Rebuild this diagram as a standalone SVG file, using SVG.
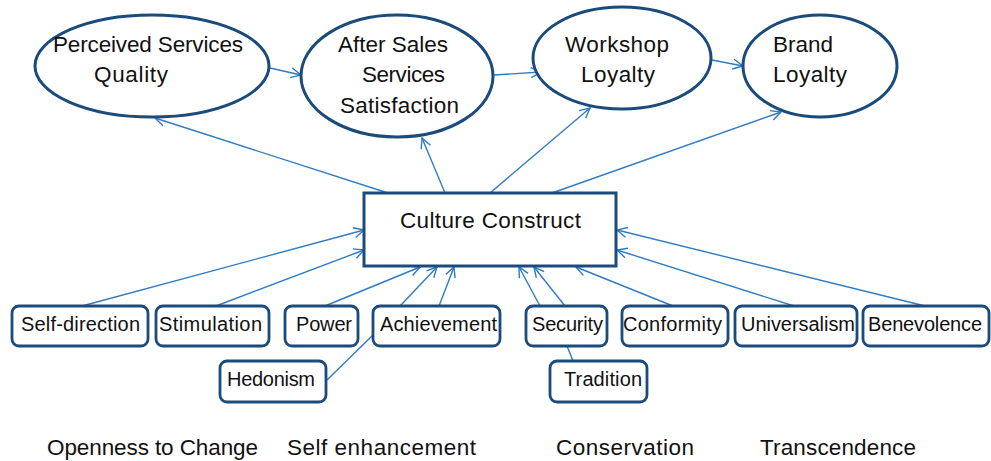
<svg xmlns="http://www.w3.org/2000/svg" width="991" height="461" viewBox="0 0 991 461">
<defs>
<style>
.ell{fill:#fff;stroke:#1b4b7a;stroke-width:3}
.box{fill:#fff;stroke:#1b4b7a;stroke-width:2.8}
.t{font-family:"Liberation Sans",Arial,sans-serif;fill:#111}
.big{font-size:22.5px}
.sm{font-size:20px}
.c line{stroke:#2f7bc4;stroke-width:1.4;fill:none}
</style>
<marker id="ar" viewBox="0 0 12 12" refX="11" refY="6" markerWidth="12" markerHeight="12" markerUnits="userSpaceOnUse" orient="auto">
<path d="M1,1 L11,6 L1,11" fill="none" stroke="#2f7bc4" stroke-width="1.4"/>
</marker>
</defs>
<rect width="991" height="461" fill="#fff"/>
<g class="c">
<line x1="388" y1="193" x2="155" y2="118" marker-end="url(#ar)"/>
<line x1="445" y1="193" x2="422" y2="138" marker-end="url(#ar)"/>
<line x1="490" y1="193" x2="590" y2="108" marker-end="url(#ar)"/>
<line x1="552" y1="193" x2="781" y2="112" marker-end="url(#ar)"/>
<line x1="270" y1="68" x2="301" y2="75" marker-end="url(#ar)"/>
<line x1="494" y1="75" x2="541" y2="72" marker-end="url(#ar)"/>
<line x1="712" y1="60" x2="743" y2="66" marker-end="url(#ar)"/>
<line x1="82" y1="306" x2="364" y2="230" marker-end="url(#ar)"/>
<line x1="216" y1="306" x2="364" y2="250" marker-end="url(#ar)"/>
<line x1="325" y1="306" x2="420" y2="267" marker-end="url(#ar)"/>
<line x1="400" y1="306" x2="437" y2="267" marker-end="url(#ar)"/>
<line x1="439" y1="306" x2="454" y2="267" marker-end="url(#ar)"/>
<line x1="327" y1="380" x2="373" y2="335"/>
<line x1="540" y1="306" x2="519" y2="267" marker-end="url(#ar)"/>
<line x1="565" y1="306" x2="534" y2="267" marker-end="url(#ar)"/>
<line x1="573" y1="361" x2="567" y2="346"/>
<line x1="673" y1="306" x2="576" y2="267" marker-end="url(#ar)"/>
<line x1="794" y1="306" x2="617" y2="250" marker-end="url(#ar)"/>
<line x1="925" y1="306" x2="617" y2="230" marker-end="url(#ar)"/>
</g>
<g id="perceived">
<ellipse class="ell" cx="152" cy="66" rx="117" ry="51"/>
<text class="t big" x="53" y="52" textLength="190">Perceived Services</text>
<text class="t big" x="94" y="82" textLength="74">Quality</text>
</g>
<g id="aftersales">
<ellipse class="ell" cx="397" cy="76" rx="96" ry="61"/>
<text class="t big" x="338" y="52" textLength="110">After Sales</text>
<text class="t big" x="362" y="82" textLength="83">Services</text>
<text class="t big" x="340" y="113" textLength="119">Satisfaction</text>
</g>
<g id="workshop">
<ellipse class="ell" cx="622" cy="58" rx="89" ry="51"/>
<text class="t big" x="565" y="52" textLength="104">Workshop</text>
<text class="t big" x="581" y="82" textLength="74">Loyalty</text>
</g>
<g id="brand">
<ellipse class="ell" cx="820" cy="66" rx="77" ry="51"/>
<text class="t big" x="773" y="52" textLength="60">Brand</text>
<text class="t big" x="773" y="82" textLength="74">Loyalty</text>
</g>
<g id="culture">
<rect x="364" y="193" width="252" height="73" fill="#fff" stroke="#1b4b7a" stroke-width="3"/>
<text class="t big" x="400" y="228" textLength="181">Culture Construct</text>
</g>
<g id="selfdirection">
<rect class="box" x="12" y="306" width="136" height="40" rx="7"/>
<text class="t sm" x="21" y="331" textLength="119">Self-direction</text>
</g>
<g id="stimulation">
<rect class="box" x="156" y="306" width="113" height="40" rx="7"/>
<text class="t sm" x="159" y="331" textLength="103">Stimulation</text>
</g>
<g id="power">
<rect class="box" x="285" y="306" width="73" height="40" rx="7"/>
<text class="t sm" x="296" y="331" textLength="56">Power</text>
</g>
<g id="achievement">
<rect class="box" x="373" y="306" width="127" height="40" rx="7"/>
<text class="t sm" x="380" y="331" textLength="117">Achievement</text>
</g>
<g id="hedonism">
<rect class="box" x="220" y="361" width="106" height="41" rx="7"/>
<text class="t sm" x="227" y="386" textLength="88">Hedonism</text>
</g>
<g id="security">
<rect class="box" x="526" y="306" width="81" height="40" rx="7"/>
<text class="t sm" x="532" y="331" textLength="71">Security</text>
</g>
<g id="tradition">
<rect class="box" x="550" y="361" width="97" height="41" rx="7"/>
<text class="t sm" x="564" y="386" textLength="78">Tradition</text>
</g>
<g id="conformity">
<rect class="box" x="622" y="306" width="106" height="40" rx="7"/>
<text class="t sm" x="623" y="331" textLength="99">Conformity</text>
</g>
<g id="universalism">
<rect class="box" x="735" y="306" width="122" height="40" rx="7"/>
<text class="t sm" x="741" y="331" textLength="114">Universalism</text>
</g>
<g id="benevolence">
<rect class="box" x="863" y="306" width="126" height="40" rx="7"/>
<text class="t sm" x="868" y="331" textLength="114">Benevolence</text>
</g>
<g id="groups">
<text class="t big" x="47" y="455" textLength="211">Openness to Change</text>
<text class="t big" x="287" y="455" textLength="189">Self enhancement</text>
<text class="t big" x="556" y="455" textLength="138">Conservation</text>
<text class="t big" x="760" y="455" textLength="156">Transcendence</text>
</g>
</svg>
